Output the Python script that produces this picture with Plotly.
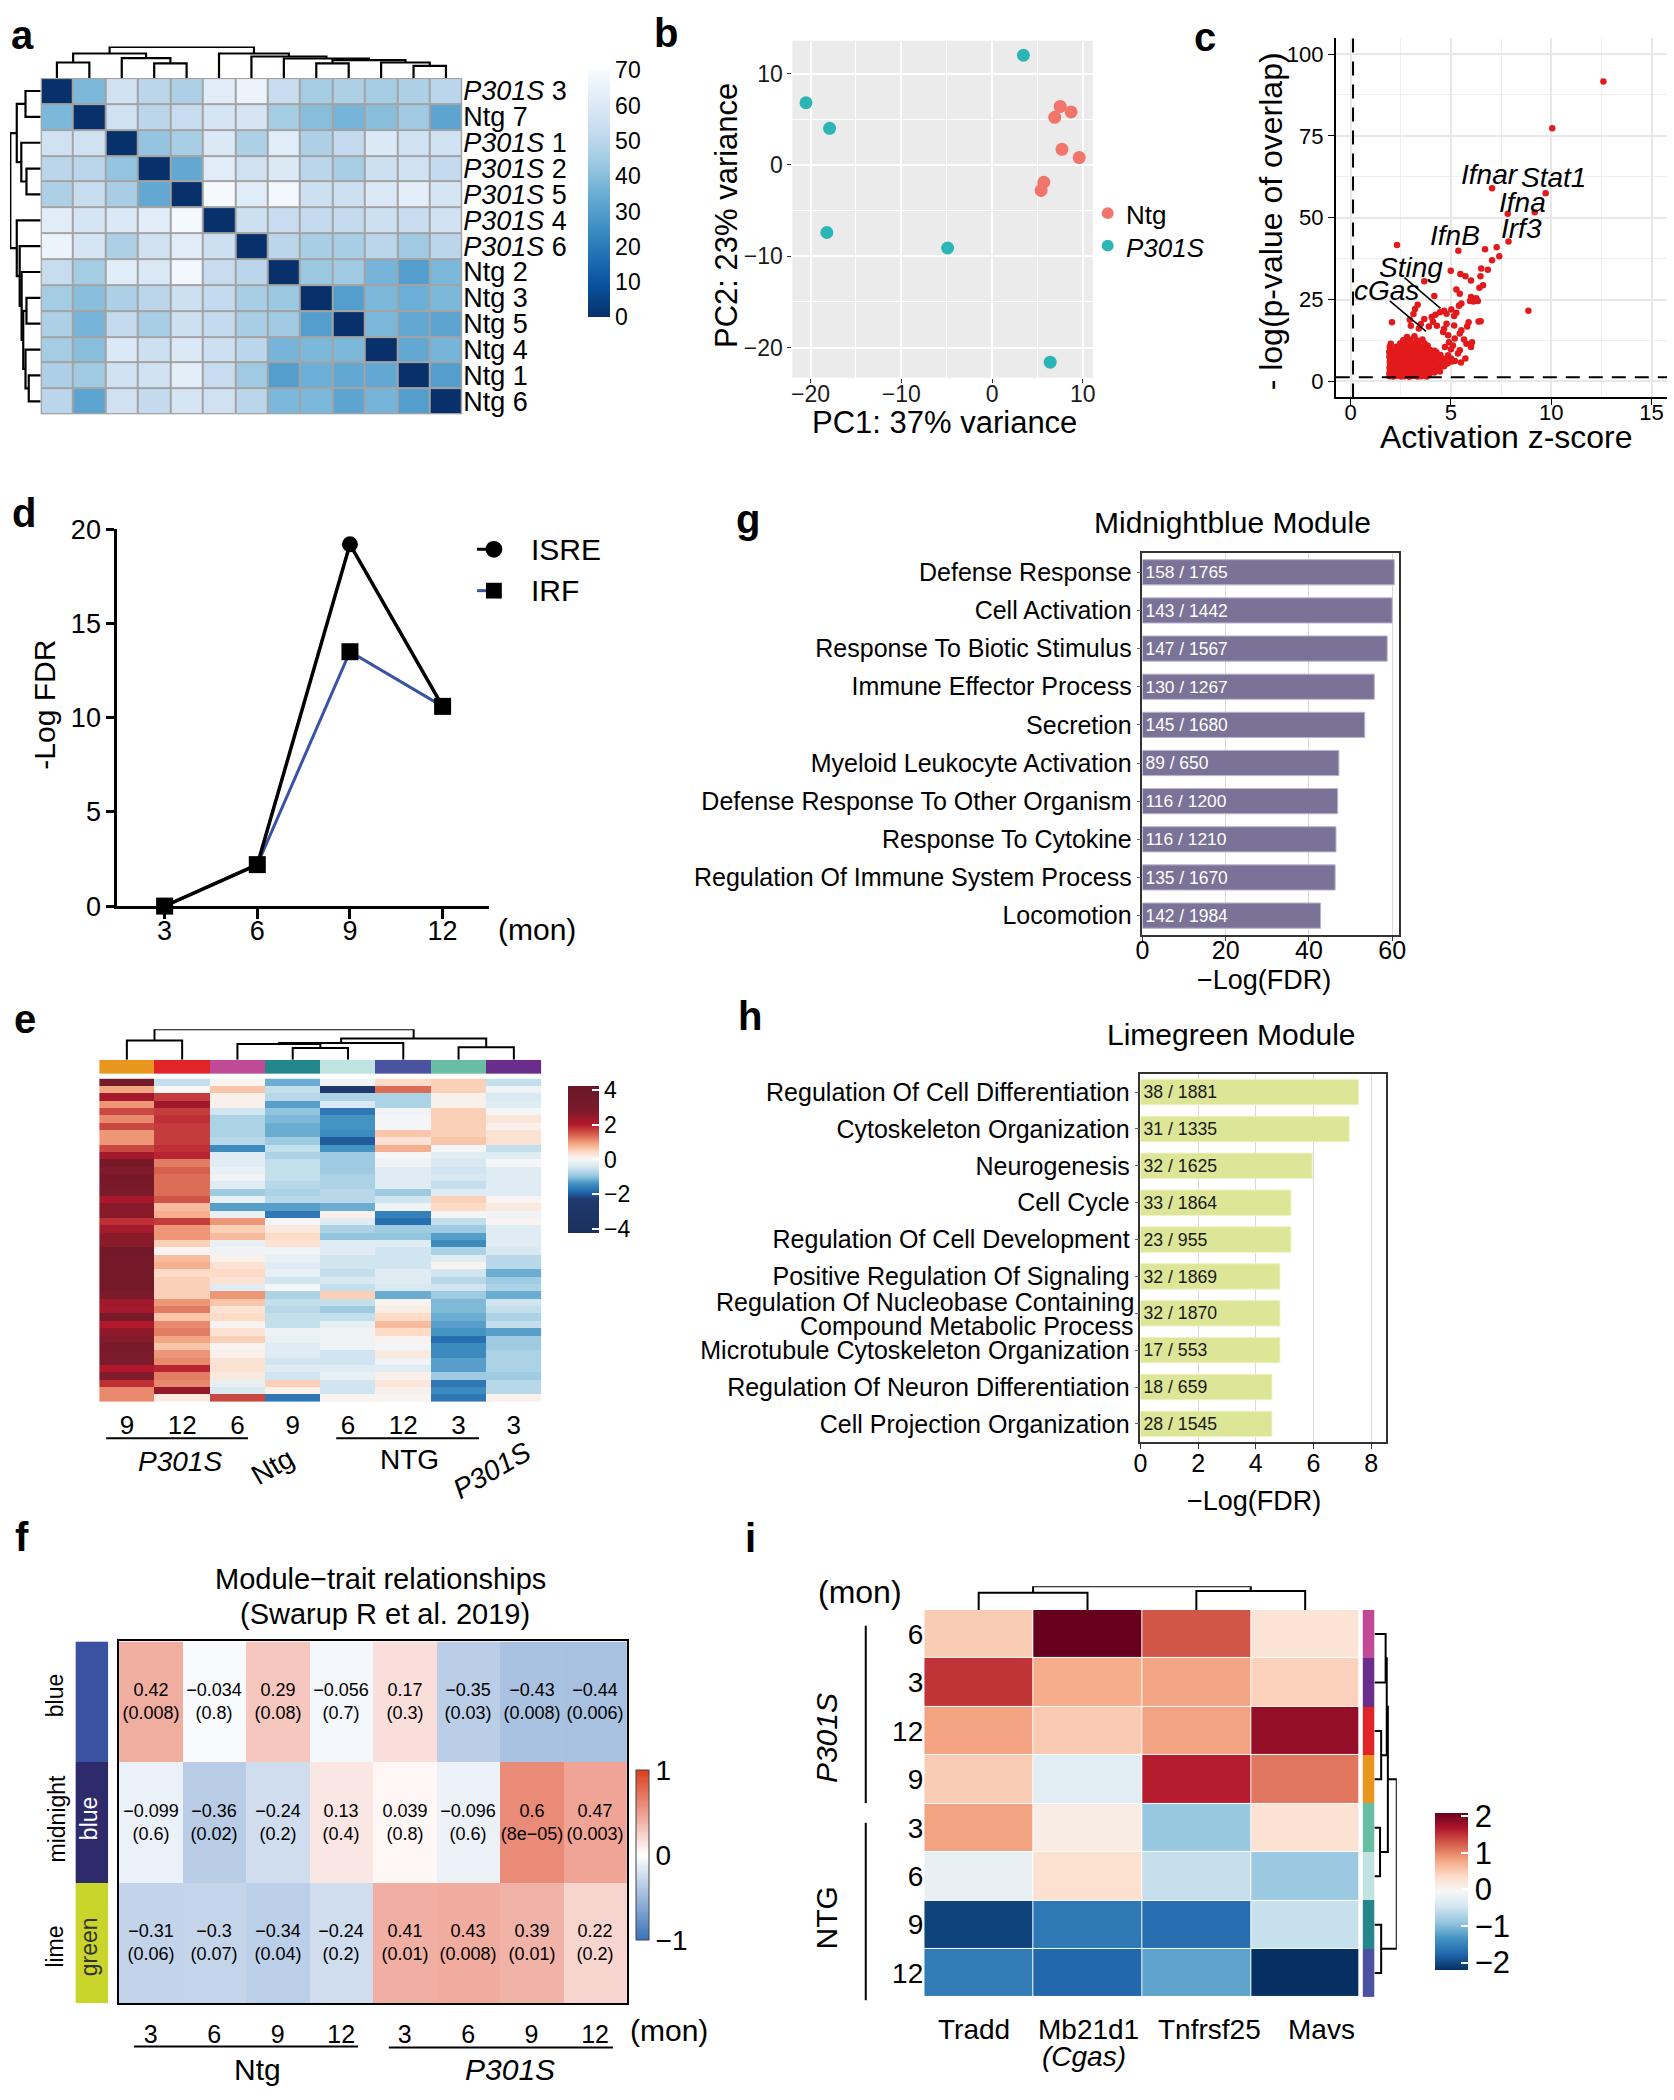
import plotly.graph_objects as go

W, H = 1674, 2100
FONT = "Liberation Sans, Arial, Helvetica, sans-serif"

# ---------------- data ----------------
# a: sample-to-sample distances
a_labels = ["<i>P301S</i> 3", "Ntg 7", "<i>P301S</i> 1", "<i>P301S</i> 2", "<i>P301S</i> 5",
            "<i>P301S</i> 4", "<i>P301S</i> 6", "Ntg 2", "Ntg 3", "Ntg 5", "Ntg 4", "Ntg 1", "Ntg 6"]
a_dist = [
    [0, 38, 56, 50, 47, 62, 66, 53, 45, 47, 45, 47, 50],
    [38, 0, 56, 50, 53, 58, 58, 45, 40, 37, 40, 44, 32],
    [56, 56, 0, 42, 46, 60, 47, 62, 47, 52, 60, 56, 56],
    [50, 50, 42, 0, 33, 62, 56, 60, 50, 46, 55, 56, 52],
    [47, 53, 46, 33, 0, 69, 62, 68, 55, 55, 60, 63, 58],
    [62, 58, 60, 62, 69, 0, 55, 53, 52, 52, 55, 53, 56],
    [66, 58, 47, 56, 62, 55, 0, 50, 46, 46, 50, 44, 50],
    [53, 45, 62, 60, 68, 53, 50, 0, 43, 44, 37, 30, 38],
    [45, 40, 47, 50, 55, 52, 46, 43, 0, 30, 38, 35, 38],
    [47, 37, 52, 46, 55, 52, 46, 44, 30, 0, 38, 33, 32],
    [45, 40, 60, 55, 60, 55, 50, 37, 38, 38, 0, 33, 37],
    [47, 44, 56, 56, 63, 53, 44, 30, 35, 33, 33, 0, 30],
    [50, 32, 56, 52, 58, 56, 50, 38, 38, 32, 37, 30, 0],
]
a_merges = [(0, 1, 47), (3, 4, 44), (2, 14, 60), (13, 15, 74), (8, 9, 44), (11, 12, 37),
            (10, 18, 47), (17, 19, 54), (7, 20, 59), (6, 21, 65), (5, 22, 74), (16, 23, 94)]

# b: PCA
b_ntg_pc1 = [7.5, 6.9, 8.7, 7.7, 9.6, 5.7, 5.4]
b_ntg_pc2 = [6.4, 5.2, 5.8, 1.7, 0.8, -1.9, -2.8]
b_p301s_pc1 = [3.45, -20.5, -17.9, -18.2, -4.9, 6.4]
b_p301s_pc2 = [12.0, 6.8, 4.0, -7.4, -9.1, -21.6]

# c: upstream regulators (activation z-score, -log p)
c_points = [
    (12.6, 91.6), (10.05, 77.3), (7.05, 59.0), (9.72, 57.5), (9.18, 51.7), (7.83, 51.2),
    (7.87, 42.7), (7.28, 41.0), (7.41, 38.2), (7.05, 37.0), (6.7, 40.4), (5.37, 39.9),
    (2.31, 41.7), (8.86, 21.6), (4.99, 33.8), (6.84, 34.1), (6.51, 34.5), (5.47, 32.8),
    (5.72, 32.1), (6.0, 30.8), (6.47, 32.1), (6.6, 29.4), (6.42, 28.6), (5.27, 28.1),
    (5.44, 26.8), (3.67, 30.6), (4.17, 26.1), (6.0, 25.8), (6.26, 25.4), (5.95, 24.6),
    (6.12, 24.4), (6.34, 24.6), (5.52, 23.8), (5.4, 23.1), (3.34, 23.4), (3.21, 22.1),
    (5.02, 22.0), (4.66, 21.6), (4.45, 21.1), (4.23, 20.4), (4.78, 20.7), (5.27, 21.0),
    (5.16, 20.0), (4.04, 19.7), (3.67, 19.1), (2.06, 18.1), (3.13, 20.6), (6.38, 18.3),
    (6.48, 18.4), (5.88, 18.1), (5.81, 16.8), (5.52, 15.6), (5.44, 14.6), (5.16, 17.1),
    (4.78, 17.6), (4.66, 16.1), (4.61, 15.1), (4.86, 14.1), (5.19, 13.1), (5.65, 12.8),
    (5.77, 11.5), (6.05, 12.0), (6.0, 10.5), (5.44, 9.5), (5.35, 8.5), (5.72, 7.0),
    (4.86, 8.0), (4.45, 3.0), (3.79, 1.5), (4.3, 17.0), (3.9, 16.8), (3.5, 17.5),
    (3.0, 17.0), (4.1, 18.2), (2.95, 18.8), (3.4, 16.2), (4.9, 12.0), (5.1, 11.0),
    (4.7, 10.5), (5.0, 9.8), (5.2, 6.2), (5.5, 5.8), (5.0, 7.0),
    (1.95, 1.6), (2.12, 1.5), (2.31, 1.7), (2.52, 1.5), (2.68, 1.6), (2.93, 1.4), (3.11, 1.7),
    (3.34, 1.5), (3.52, 1.6), (3.71, 1.8), (1.93, 2.4), (2.06, 2.5), (2.22, 2.3), (2.41, 2.5),
    (2.63, 2.4), (2.81, 2.6), (3.02, 2.3), (3.24, 2.5), (3.41, 2.4), (3.63, 2.6), (3.92, 2.3),
    (4.18, 2.7), (1.96, 3.3), (2.11, 3.2), (2.27, 3.4), (2.46, 3.3), (2.64, 3.1), (2.86, 3.4),
    (3.07, 3.2), (3.26, 3.5), (3.44, 3.3), (3.66, 3.2), (3.87, 3.4), (4.06, 3.3), (4.33, 3.6),
    (1.94, 4.2), (2.09, 4.3), (2.29, 4.1), (2.47, 4.4), (2.69, 4.2), (2.87, 4.0), (3.09, 4.3),
    (3.29, 4.2), (3.47, 4.5), (3.69, 4.1), (3.89, 4.3), (4.11, 4.2), (4.42, 4.4), (4.66, 4.6),
    (1.97, 5.1), (2.16, 5.0), (2.34, 5.2), (2.56, 5.1), (2.74, 4.9), (2.96, 5.3), (3.14, 5.1),
    (3.36, 5.0), (3.56, 5.2), (3.74, 5.1), (3.96, 5.3), (4.21, 5.0), (4.48, 5.2), (4.83, 5.5),
    (1.95, 6.0), (2.13, 6.1), (2.33, 5.9), (2.51, 6.2), (2.73, 6.0), (2.91, 6.1), (3.13, 5.9),
    (3.31, 6.2), (3.53, 6.0), (3.73, 5.8), (3.94, 6.1), (4.24, 6.0), (4.57, 6.3), (5.05, 6.1),
    (1.99, 6.9), (2.21, 7.0), (2.38, 6.8), (2.61, 7.1), (2.79, 6.9), (3.01, 7.0), (3.19, 6.8),
    (3.41, 7.1), (3.61, 6.9), (3.79, 7.0), (4.04, 6.8), (4.36, 7.1), (4.71, 6.9),
    (2.04, 7.8), (2.24, 7.9), (2.46, 7.7), (2.64, 8.0), (2.86, 7.8), (3.04, 7.9), (3.26, 7.7),
    (3.44, 8.0), (3.66, 7.8), (3.91, 7.9), (4.14, 7.7), (4.48, 8.1),
    (2.08, 8.7), (2.31, 8.8), (2.49, 8.6), (2.71, 8.9), (2.89, 8.7), (3.11, 8.8), (3.29, 8.6),
    (3.51, 8.9), (3.74, 8.7), (4.02, 8.6), (4.28, 8.9),
    (2.19, 9.6), (2.44, 9.7), (2.66, 9.5), (2.84, 9.8), (3.06, 9.6), (3.24, 9.7), (3.49, 9.5),
    (3.71, 9.8), (3.96, 9.6), (4.18, 9.4),
    (2.28, 10.6), (2.58, 10.7), (2.83, 10.5), (3.12, 10.8), (3.34, 10.6), (3.61, 10.5), (3.84, 10.9),
    (2.47, 11.6), (2.79, 11.7), (3.08, 11.5), (3.38, 11.8), (3.69, 11.6),
    (2.62, 12.6), (2.98, 12.7), (3.31, 12.5), (3.58, 12.8), (2.81, 13.6), (3.18, 13.8),
    (1.92, 9.0), (1.95, 10.5), (2.0, 11.5), (1.93, 7.5),
]
c_z = [p[0] for p in c_points]
c_logp = [p[1] for p in c_points]
c_genes = ["<i>Ifnar</i>", "<i>Stat1</i>", "<i>Ifna</i>", "<i>Irf3</i>", "<i>IfnB</i>", "<i>Sting</i>", "<i>cGas</i>"]
c_gene_z = [6.95, 10.13, 8.58, 8.53, 5.19, 3.0, 1.81]
c_gene_p = [63.3, 62.3, 54.8, 46.7, 44.5, 34.7, 27.9]

# d: motif enrichment
d_months = [3, 6, 9, 12]
d_isre = [0, 2.2, 19.2, 10.6]
d_irf = [0, 2.2, 13.5, 10.6]

# e: expression heatmap (8 groups x 44 genes)
e_times = ["9", "12", "6", "9", "6", "12", "3", "3"]
e_group_colors = ["#e8961e", "#e02427", "#c04a96", "#24868a", "#bfe3e1", "#4b52a0", "#68bea2", "#6b2d8b"]
e_p301s_9 = [3.3, 0.9, 2.2, 1.0, 1.6, 1.1, 1.6, 1.0, 1.0, 1.6, 2.2, 3.0, 2.7, 3.0, 2.9, 2.8, 2.1, 2.6,
             2.6, 1.8, 2.2, 2.6, 2.6, 3.6, 3.3, 3.2, 3.2, 3.3, 3.3, 2.8, 2.3, 2.2, 2.9, 2.0, 2.5, 2.7,
             2.9, 2.8, 2.8, 2.0, 2.7, 1.8, 1.1, 1.1]
e_p301s_12 = [-0.6, 0.0, 1.7, 2.3, 1.7, 1.8, 1.7, 1.7, 1.7, 1.8, 1.9, 1.2, 1.4, 1.3, 1.3, 1.3, 1.5, 0.7,
              0.8, 1.7, 1.0, 1.0, 0.5, 0.05, 0.7, 0.8, 0.4, 0.5, 0.5, 0.5, 1.0, 1.2, 0.6, 1.1, 1.2, 0.9,
              0.6, 1.0, 1.1, 1.9, 1.2, 1.1, 2.4, 0.2]
e_p301s_6 = [0.05, 0.6, 0.1, 0.1, -0.5, -0.8, -0.8, -0.8, -0.7, -1.5, -0.3, -0.3, -0.2, -0.1, -0.3, -0.9,
             -0.2, -1.3, -0.2, 1.0, 0.5, 0.7, -0.2, -0.1, 0.1, 0.3, 0.4, 0.3, -0.3, 1.0, 0.6, 0.3, 0.4,
             0.05, 0.3, 0.5, 0.05, 0.1, 0.3, 0.3, 0.2, -0.2, -0.4, 1.6]
e_ntg_9 = [-1.2, -0.6, -0.7, -1.3, -1.0, -1.1, -1.2, -1.2, -0.9, -0.6, -0.8, -0.6, -0.6, -0.6, -0.7, -0.8,
           -0.7, -1.3, -1.7, -0.05, 0.2, 0.4, 0.3, -0.1, -0.2, -0.3, -0.2, -0.5, -0.05, -0.8, -0.6, -0.7,
           -0.6, -0.6, -0.15, -0.2, -0.3, -0.3, -0.5, -0.3, -0.5, 0.5, 0.1, -1.7]
e_ntg_6 = [-0.1, -2.4, -0.8, -0.4, -1.7, -1.4, -1.4, -1.5, -2.0, -1.4, -0.9, -0.9, -0.9, -0.8, -0.8, -0.7,
           -0.7, -1.2, 0.1, -0.3, -0.8, -1.0, -0.3, -0.3, -0.5, -0.5, -0.6, -0.4, -0.6, 0.5, -0.6, -0.9,
           -0.6, -0.2, -0.1, -0.1, -0.1, -0.5, -0.5, -0.3, -0.2, -0.5, -0.5, 0.05]
e_ntg_12 = [0.4, 1.3, -0.8, -0.8, -0.1, -0.05, -0.05, 0.6, 0.3, 0.8, -0.05, -0.1, -0.3, -0.3, -0.3, -0.9,
            -0.5, -0.1, -1.6, -1.8, -0.9, -1.0, -0.3, -0.5, -0.5, -0.5, -0.3, -0.3, -0.4, -1.2, 0.05, 0.15,
            0.4, 0.7, 0.4, 0.05, -0.05, 0.2, -0.1, -0.3, 0.1, 0.25, 0.1, 0.05]
e_ntg_3 = [0.5, 0.5, 0.1, 0.1, 0.5, 0.5, 0.5, 0.5, 0.6, -0.05, -0.3, -0.4, -0.5, -0.4, -0.6, -0.3, 0.5, 0.4,
           -0.05, -0.6, -0.9, -1.3, -1.5, -0.8, -0.3, 0.05, -0.5, -0.7, -0.5, -0.9, -1.1, -1.1, -1.2, -1.3,
           -1.4, -1.8, -1.5, -1.5, -1.3, -1.3, -0.9, -1.7, -1.5, -1.7]
e_p301s_3 = [-0.6, -0.1, -0.4, -0.3, -0.05, 0.25, 0.1, 0.3, 0.3, -0.6, -0.3, -0.05, -0.3, -0.3, -0.3, -0.3,
             0.05, 0.2, -0.1, 0.05, -0.3, -0.3, -0.3, -0.4, -0.7, -0.7, -1.2, -0.9, -0.8, -1.2, -0.5, -0.6,
             -0.8, -0.6, -1.3, -0.9, -0.9, -0.8, -0.8, -0.8, -0.9, -0.7, -0.7, 0.1]
e_merges = [(3, 4, 35), (2, 8, 47), (9, 5, 50), (6, 7, 37), (10, 11, 63), (0, 1, 57), (13, 12, 90)]

# f: module-trait relationships
f_modules = ["blue", "midnightblue", "limegreen"]
f_module_colors = ["#3b52a3", "#2d2b6b", "#c9d52b"]
f_times = ["3", "6", "9", "12", "3", "6", "9", "12"]
f_r = [
    [0.42, -0.034, 0.29, -0.056, 0.17, -0.35, -0.43, -0.44],
    [-0.099, -0.36, -0.24, 0.13, 0.039, -0.096, 0.6, 0.47],
    [-0.31, -0.3, -0.34, -0.24, 0.41, 0.43, 0.39, 0.22],
]
f_p = [
    ["0.008", "0.8", "0.08", "0.7", "0.3", "0.03", "0.008", "0.006"],
    ["0.6", "0.02", "0.2", "0.4", "0.8", "0.6", "8e-05", "0.003"],
    ["0.06", "0.07", "0.04", "0.2", "0.01", "0.008", "0.01", "0.2"],
]

# g, h: GO enrichment
g_terms = ["Defense Response", "Cell Activation", "Response To Biotic Stimulus", "Immune Effector Process",
           "Secretion", "Myeloid Leukocyte Activation", "Defense Response To Other Organism",
           "Response To Cytokine", "Regulation Of Immune System Process", "Locomotion"]
g_logfdr = [60.5, 60.0, 58.8, 55.7, 53.4, 47.2, 46.9, 46.5, 46.3, 42.8]
g_counts = ["158 / 1765", "143 / 1442", "147 / 1567", "130 / 1267", "145 / 1680", "89 / 650",
            "116 / 1200", "116 / 1210", "135 / 1670", "142 / 1984"]
h_terms = ["Regulation Of Cell Differentiation", "Cytoskeleton Organization", "Neurogenesis", "Cell Cycle",
           "Regulation Of Cell Development", "Positive Regulation Of Signaling",
           "Regulation Of Nucleobase Containing<br>Compound Metabolic Process",
           "Microtubule Cytoskeleton Organization", "Regulation Of Neuron Differentiation",
           "Cell Projection Organization"]
h_logfdr = [7.56, 7.24, 5.96, 5.22, 5.22, 4.84, 4.84, 4.84, 4.56, 4.56]
h_counts = ["38 / 1881", "31 / 1335", "32 / 1625", "33 / 1864", "23 / 955", "32 / 1869", "32 / 1870",
            "17 / 553", "18 / 659", "28 / 1545"]

# i: cGAS-STING pathway genes
i_genes = ["Tradd", "Mb21d1", "Tnfrsf25", "Mavs"]
i_times = ["6", "3", "12", "9", "3", "6", "9", "12"]
i_group_colors = ["#c04a96", "#6b2d8b", "#e02427", "#e8961e", "#68bea2", "#bfe3e1", "#24868a", "#4b52a0"]
i_z = [
    [0.5, 2.1, 1.3, 0.25],
    [1.5, 0.75, 0.8, 0.45],
    [0.82, 0.52, 0.82, 1.85],
    [0.5, -0.3, 1.65, 1.1],
    [0.82, 0.12, -0.87, 0.28],
    [-0.22, 0.3, -0.57, -0.85],
    [-2.05, -1.6, -1.7, -0.55],
    [-1.55, -1.75, -1.2, -2.2],
]
i_col_merges = [(0, 1, 47), (2, 3, 52), (4, 5, 65)]
i_row_merges = [(0, 1, 20), (2, 3, 12), (8, 9, 22), (4, 5, 10), (10, 11, 24), (6, 7, 12), (12, 13, 40)]


# ---------------- helpers ----------------
def scale(stops, lo, hi):
    return [[(v - lo) / (hi - lo), c] for v, c in stops]


def discrete(colors):
    n = len(colors)
    cs = []
    for i, c in enumerate(colors):
        cs += [[i / n, c], [(i + 1) / n, c]]
    return cs


def dendro(merges, n):
    pos = {i: float(i) for i in range(n)}
    hgt = {i: 0.0 for i in range(n)}
    xs, ys = [], []
    for k, (a, b, h) in enumerate(merges):
        xs += [pos[a], pos[a], pos[b], pos[b], None]
        ys += [hgt[a], h, h, hgt[b], None]
        pos[n + k] = (pos[a] + pos[b]) / 2
        hgt[n + k] = h
    return xs, ys


BLUES_R = [[0, "#08306b"], [0.125, "#08519c"], [0.25, "#2171b5"], [0.375, "#4292c6"], [0.5, "#6baed6"],
           [0.625, "#9ecae1"], [0.75, "#c6dbef"], [0.875, "#deebf7"], [1, "#f7fbff"]]
E_SCALE = scale([(-4.25, "#1b2f5c"), (-2.3, "#1f3a6e"), (-1.9, "#2166ac"), (-1.4, "#4393c3"),
                 (-1.0, "#92c5de"), (-0.5, "#d1e5f0"), (0, "#f7f7f7"), (0.4, "#fddbc7"),
                 (0.9, "#f4a582"), (1.4, "#d6604d"), (2.0, "#b2182b"), (2.8, "#7a1a2a"),
                 (4.2, "#6a1628")], -4.25, 4.2)
RDBU_R = ["#053061", "#2166ac", "#4393c3", "#92c5de", "#d1e5f0", "#f7f7f7",
          "#fddbc7", "#f4a582", "#d6604d", "#b2182b", "#67001f"]
I_SCALE = [[k / 10, c] for k, c in enumerate(RDBU_R)]
F_SCALE = [[0, "#3a72ba"], [0.5, "#ffffff"], [1, "#dc3d1e"]]

fig = go.Figure()
axes_layout = {}
shapes = []
annotations = []


def axes(n, xpx, ypx, xkw=None, ykw=None):
    s = "" if n == 1 else str(n)
    xa = dict(domain=[xpx[0] / W, xpx[1] / W], anchor="y" + s, visible=False,
              showgrid=False, zeroline=False, fixedrange=True)
    ya = dict(domain=[1 - ypx[1] / H, 1 - ypx[0] / H], anchor="x" + s, visible=False,
              showgrid=False, zeroline=False, fixedrange=True)
    xa.update(xkw or {})
    ya.update(ykw or {})
    axes_layout["xaxis" + s] = xa
    axes_layout["yaxis" + s] = ya
    return "x" + s, "y" + s


def note(text, x, y, size, angle=0, anchor="center", color="black"):
    annotations.append(dict(text=text, x=x / W, y=1 - y / H, xref="paper", yref="paper",
                            showarrow=False, textangle=angle, xanchor=anchor, yanchor="middle",
                            font=dict(size=size, color=color, family=FONT)))


def seg(x0, y0, x1, y1, color="black", width=2):
    shapes.append(dict(type="line", xref="paper", yref="paper", x0=x0 / W, y0=1 - y0 / H,
                       x1=x1 / W, y1=1 - y1 / H, line=dict(color=color, width=width)))


def cbar(x, ytop, ybot, thick, **kw):
    d = dict(x=x / W, xanchor="left", xpad=0, y=1 - (ytop + ybot) / 2 / H, yanchor="middle", ypad=0,
             len=ybot - ytop, lenmode="pixels", thickness=thick, thicknessmode="pixels", outlinewidth=0)
    d.update(kw)
    return d


def minus(v):
    return str(v).replace("-", "\u2212")


# ---------------- a ----------------
xa, ya = axes(1, (34, 459), (64, 405), dict(range=[-0.5, 12.5]),
              dict(visible=True, range=[12.5, -0.5], side="right", tickmode="array",
                   tickvals=list(range(13)), ticktext=a_labels, ticks="", showline=False,
                   tickfont=dict(size=27)))
shapes.append(dict(type="rect", xref=xa, yref=ya, x0=-0.5, x1=12.5, y0=-0.5, y1=12.5,
                   fillcolor="#a3a3a3", line=dict(width=0), layer="below"))
fig.add_trace(go.Heatmap(z=a_dist, x=list(range(13)), y=list(range(13)), xaxis=xa, yaxis=ya,
                         colorscale=BLUES_R, zmin=0, zmax=70, xgap=2, ygap=2, hoverinfo="skip",
                         colorbar=cbar(586, 58, 305, 22, tickvals=[0, 10, 20, 30, 40, 50, 60, 70],
                                       tickfont=dict(size=23), ticks="")))
shapes.append(dict(type="rect", xref=xa, yref=ya, x0=-0.5, x1=12.5, y0=-0.5, y1=12.5,
                   fillcolor="rgba(0,0,0,0)", line=dict(color="#a3a3a3", width=2), layer="above"))
dx, dy = dendro(a_merges, 13)
xa2, ya2 = axes(2, (34, 459), (32, 64), dict(range=[-0.5, 12.5]), dict(range=[0, 95]))
fig.add_trace(go.Scatter(x=dx, y=dy, mode="lines", line=dict(color="black", width=2.2),
                         xaxis=xa2, yaxis=ya2, cliponaxis=False, hoverinfo="skip"))
xa3, ya3 = axes(3, (3, 34), (64, 405), dict(range=[95, 0]), dict(range=[12.5, -0.5]))
fig.add_trace(go.Scatter(x=dy, y=dx, mode="lines", line=dict(color="black", width=2.2),
                         xaxis=xa3, yaxis=ya3, cliponaxis=False, hoverinfo="skip"))

# ---------------- b ----------------
grid_b = dict(visible=True, showgrid=True, gridcolor="white", gridwidth=2, ticks="outside", ticklen=4,
              tickcolor="#333333", tickfont=dict(size=23, color="#1a1a1a"), showline=False)
xa4, ya4 = axes(4, (792, 1095), (26, 368),
                dict(grid_b, range=[-22, 11.1], tickvals=[-20, -10, 0, 10], ticklabelstandoff=-8,
                     ticktext=["\u221220", "\u221210", "0", "10"],
                     minor=dict(tickvals=[-15, -5, 5], showgrid=True, gridcolor="white", gridwidth=1)),
                dict(grid_b, range=[-23.3, 13.6], tickvals=[-20, -10, 0, 10], ticktext=["\u221220", "\u221210", "0", "10"],
                     minor=dict(tickvals=[-15, -5, 5], showgrid=True, gridcolor="white", gridwidth=1)))
shapes.append(dict(type="rect", xref=xa4 + " domain", yref=ya4 + " domain", x0=0, x1=1, y0=0, y1=1,
                   fillcolor="#ebebeb", line=dict(width=0), layer="below"))
fig.add_trace(go.Scatter(x=b_ntg_pc1, y=b_ntg_pc2, mode="markers", xaxis=xa4, yaxis=ya4,
                         marker=dict(color="#f0756b", size=13), hoverinfo="skip"))
fig.add_trace(go.Scatter(x=b_p301s_pc1, y=b_p301s_pc2, mode="markers", xaxis=xa4, yaxis=ya4,
                         marker=dict(color="#2bb5b5", size=13), cliponaxis=False, hoverinfo="skip"))
note("PC2: 23% variance", 725, 203, 31, angle=-90)
note("PC1: 37% variance", 945, 413, 31)
for yy, col, lab in [(201, "#f0756b", "Ntg"), (234, "#2bb5b5", "<i>P301S</i>")]:
    shapes.append(dict(type="circle", xref="paper", yref="paper", x0=(1110 - 6) / W, x1=(1110 + 6) / W,
                       y0=1 - (yy + 6) / H, y1=1 - (yy - 6) / H, fillcolor=col, line=dict(width=0)))
    note(lab, 1126, yy + 2, 26, anchor="left")

# ---------------- c ----------------
grid_c = dict(visible=True, showgrid=True, gridcolor="#e8e8e8", gridwidth=1.5, showline=True, linecolor="black",
              linewidth=2, ticks="outside", ticklen=6, tickcolor="black", tickfont=dict(size=22))
xa5, ya5 = axes(5, (1340, 1674), (23, 388),
                dict(grid_c, range=[-0.74, 15.77], tickvals=[0, 5, 10, 15], ticklabelstandoff=-12,
                     minor=dict(tickvals=[2.5, 7.5, 12.5], showgrid=True, gridcolor="#efefef", gridwidth=1)),
                dict(grid_c, range=[-4.9, 105], tickvals=[0, 25, 50, 75, 100],
                     minor=dict(tickvals=[12.5, 37.5, 62.5, 87.5], showgrid=True, gridcolor="#efefef", gridwidth=1)))
fig.add_trace(go.Scatter(x=c_z, y=c_logp, mode="markers", xaxis=xa5, yaxis=ya5,
                         marker=dict(color="#e31a1c", size=6.5, line=dict(width=0)), hoverinfo="skip"))
shapes.append(dict(type="line", xref=xa5, yref=ya5 + " domain", x0=0.12, x1=0.12, y0=0, y1=1,
                   line=dict(color="black", width=2, dash="14px,9px")))
shapes.append(dict(type="line", xref=xa5 + " domain", yref=ya5, x0=0, x1=1, y0=1.3, y1=1.3,
                   line=dict(color="black", width=2, dash="14px,9px")))
for t, gx, gy in zip(c_genes, c_gene_z, c_gene_p):
    annotations.append(dict(text=t, x=gx, y=gy, xref=xa5, yref=ya5, showarrow=False,
                            font=dict(size=28, family=FONT, color="black")))
shapes.append(dict(type="line", xref=xa5, yref=ya5, x0=2.68, y0=31.7, x1=4.48, y1=22.3,
                   line=dict(color="black", width=1.5)))
shapes.append(dict(type="line", xref=xa5, yref=ya5, x0=1.95, y0=24.6, x1=3.76, y1=15.3,
                   line=dict(color="black", width=1.5)))
note("- log(p-value of overlap)", 1275, 209, 32, angle=-90)
note("Activation z-score", 1512, 428, 32)

# ---------------- d ----------------
ax_d = dict(visible=True, showline=True, linecolor="black", linewidth=2.5, ticks="outside",
            tickwidth=2.5, tickcolor="black", tickfont=dict(size=27))
xa6, ya6 = axes(6, (111, 486), (521.7, 904),
                dict(ax_d, range=[1.46, 13.5], tickvals=d_months, ticklen=10, ticklabelstandoff=-11),
                dict(ax_d, range=[0, 20], tickvals=[0, 5, 10, 15, 20], ticklen=8))
fig.add_trace(go.Scatter(x=d_months, y=d_irf, mode="lines+markers", xaxis=xa6, yaxis=ya6,
                         line=dict(color="#3a54a4", width=3), cliponaxis=False, hoverinfo="skip",
                         marker=dict(symbol="square", size=17, color="black")))
fig.add_trace(go.Scatter(x=d_months, y=d_isre, mode="lines+markers", xaxis=xa6, yaxis=ya6,
                         line=dict(color="black", width=3.5), cliponaxis=False, hoverinfo="skip",
                         marker=dict(symbol="circle", size=16, color="black")))
note("-Log FDR", 38, 700, 30, angle=-90)
note("(mon)", 534, 928, 30)
seg(474, 542, 498, 542, width=3)
shapes.append(dict(type="circle", xref="paper", yref="paper", x0=(491 - 8.5) / W, x1=(491 + 8.5) / W,
                   y0=1 - (542 + 8.5) / H, y1=1 - (542 - 8.5) / H, fillcolor="black", line=dict(width=0)))
seg(474, 584, 498, 584, color="#3a54a4", width=3)
shapes.append(dict(type="rect", xref="paper", yref="paper", x0=(491 - 8) / W, x1=(491 + 8) / W,
                   y0=1 - (584 + 8) / H, y1=1 - (584 - 8) / H, fillcolor="black", line=dict(width=0)))
note("ISRE", 526, 542, 30, anchor="left")
note("IRF", 526, 584, 30, anchor="left")

# ---------------- g ----------------
ax_bar_x = dict(visible=True, showgrid=True, gridcolor="#d9d9d9", gridwidth=1, showline=True, mirror=True,
                linecolor="#333333", linewidth=1.5, ticks="outside", ticklen=5, tickcolor="#333333",
                tickfont=dict(size=25))
ax_bar_y = dict(visible=True, type="category", autorange="reversed", showline=True, mirror=True,
                linecolor="#333333", linewidth=1.5, ticks="outside", ticklen=4, tickcolor="#666666",
                tickfont=dict(size=25))
xa7, ya7 = axes(7, (1145, 1404), (546, 933),
                dict(ax_bar_x, range=[0, 61.7], tickvals=[0, 20, 40, 60], ticklabelstandoff=-12),
                dict(ax_bar_y))
fig.add_trace(go.Bar(x=g_logfdr, y=g_terms, orientation="h", xaxis=xa7, yaxis=ya7, width=0.66,
                     marker=dict(color="#7b7297", line=dict(color="#b9b3cc", width=1)),
                     text=g_counts, textposition="inside", insidetextanchor="start",
                     textfont=dict(color="white", size=20), hoverinfo="skip"))
note("Midnightblue Module", 1236, 515, 30)
note("\u2212Log(FDR)", 1268, 979, 27)

# ---------------- h ----------------
h_ticktext = ["" if "<br>" in t else t for t in h_terms]
xa11, ya11 = axes(11, (1143, 1391), (1074, 1448),
                  dict(ax_bar_x, range=[0, 8.53], tickvals=[0, 2, 4, 6, 8], ticklabelstandoff=-7),
                  dict(ax_bar_y, tickmode="array", tickvals=h_terms, ticktext=h_ticktext))
fig.add_trace(go.Bar(x=h_logfdr, y=h_terms, orientation="h", xaxis=xa11, yaxis=ya11, width=0.69,
                     marker=dict(color="#dde597", line=dict(color="#eef2c4", width=1)),
                     text=h_counts, textposition="inside", insidetextanchor="start",
                     textfont=dict(color="#1a1a1a", size=20), hoverinfo="skip"))
for k, t in enumerate(h_terms):
    if "<br>" in t:
        yc = 1074 + (k + 0.5) * (1448 - 1074) / len(h_terms)
        for j, part in enumerate(t.split("<br>")):
            note(part, 1139, yc - 11 + 24 * j, 25, anchor="right")
note("Limegreen Module", 1234, 1034, 30)
note("\u2212Log(FDR)", 1258, 1508, 27)

# ---------------- e ----------------
e_cols = [e_p301s_9, e_p301s_12, e_p301s_6, e_ntg_9, e_ntg_6, e_ntg_12, e_ntg_3, e_p301s_3]
e_z = [list(row) for row in zip(*e_cols)]
xa8, ya8 = axes(8, (93, 539), (1079, 1407),
                dict(visible=True, range=[-0.5, 7.5], tickvals=list(range(8)), ticktext=e_times, ticks="",
                     showline=False, tickfont=dict(size=26), ticklabelstandoff=5),
                dict(range=[len(e_z) - 0.5, -0.5]))
fig.add_trace(go.Heatmap(z=e_z, x=list(range(8)), y=list(range(len(e_z))), xaxis=xa8, yaxis=ya8,
                         colorscale=E_SCALE, zmin=-4.25, zmax=4.2, hoverinfo="skip",
                         colorbar=cbar(566, 1088, 1235, 31, tickvals=[-4, -2, 0, 2, 4],
                                       ticktext=["\u22124", "\u22122", "0", "2", "4"], ticks="inside",
                                       ticklen=7, tickwidth=2, tickcolor="white", tickfont=dict(size=23))))
xa9, ya9 = axes(9, (93, 539), (1060, 1074), dict(range=[-0.5, 7.5]), dict(range=[-0.5, 0.5]))
fig.add_trace(go.Heatmap(z=[list(range(8))], x=list(range(8)), y=[0], xaxis=xa9, yaxis=ya9,
                         colorscale=discrete(e_group_colors), zmin=-0.5, zmax=7.5, showscale=False,
                         hoverinfo="skip"))
ex, ey = dendro(e_merges, 8)
xa10, ya10 = axes(10, (93, 539), (1029, 1060), dict(range=[-0.5, 7.5]), dict(range=[0, 90]))
fig.add_trace(go.Scatter(x=ex, y=ey, mode="lines", line=dict(color="black", width=2),
                         xaxis=xa10, yaxis=ya10, cliponaxis=False, hoverinfo="skip"))
seg(100, 1444, 243, 1444)
seg(332, 1444, 476, 1444)
note("<i>P301S</i>", 174, 1467, 28)
note("Ntg", 268, 1473, 28, angle=-30)
note("NTG", 406, 1465, 28)
note("<i>P301S</i>", 489, 1477, 28, angle=-30)

# ---------------- f ----------------
f_text = [[minus(r) + "<br>(" + minus(p) + ")" for r, p in zip(rr, pp)] for rr, pp in zip(f_r, f_p)]
ax_f = dict(showline=True, mirror=True, linecolor="black", linewidth=2)
xa12, ya12 = axes(12, (113, 625), (1650, 2017),
                  dict(ax_f, visible=True, range=[-0.5, 7.5], tickvals=list(range(8)), ticktext=f_times,
                       ticks="", tickfont=dict(size=25), ticklabelstandoff=8),
                  dict(ax_f, visible=True, range=[2.5, -0.5], showticklabels=False, ticks=""))
fig.add_trace(go.Heatmap(z=f_r, x=list(range(8)), y=list(range(3)), xaxis=xa12, yaxis=ya12,
                         colorscale=F_SCALE, zmin=-1, zmax=1, text=f_text, texttemplate="%{text}",
                         textfont=dict(size=18, color="black", family=FONT), hoverinfo="skip",
                         colorbar=cbar(634, 1782, 1952, 13, tickvals=[-1, 0, 1], ticktext=["\u22121", "0", "1"],
                                       ticks="", outlinewidth=1, outlinecolor="#444444",
                                       tickfont=dict(size=28))))
xa13, ya13 = axes(13, (69, 102), (1650, 2017), dict(range=[-0.5, 0.5]), dict(range=[2.5, -0.5]))
fig.add_trace(go.Heatmap(z=[[0], [1], [2]], x=[0], y=[0, 1, 2], xaxis=xa13, yaxis=ya13,
                         colorscale=discrete(f_module_colors), zmin=-0.5, zmax=2.5, showscale=False,
                         hoverinfo="skip"))
note("Module\u2212trait relationships", 377, 1587, 29)
note("(Swarup R et al. 2019)", 381, 1622, 29)
note("blue", 48, 1705, 23, angle=-90)
note("midnight", 50, 1830, 23, angle=-90)
note("blue", 83, 1830, 23, angle=-90, color="white")
note("lime", 48, 1960, 23, angle=-90)
note("green", 83, 1960, 23, angle=-90, color="#333333")
note("(mon)", 668, 2045, 30)
seg(128, 2061, 354, 2061)
seg(385, 2062, 611, 2062)
note("Ntg", 253, 2084, 30)
note("<i>P301S</i>", 507, 2084, 30)

# ---------------- i ----------------
xa14, ya14 = axes(14, (925, 1364), (1618, 2011),
                  dict(range=[-0.5, 3.5]),
                  dict(visible=True, range=[7.5, -0.5], tickvals=list(range(8)), ticktext=i_times, ticks="",
                       showline=False, tickfont=dict(size=28)))
fig.add_trace(go.Heatmap(z=i_z, x=list(range(4)), y=list(range(8)), xaxis=xa14, yaxis=ya14,
                         colorscale=I_SCALE, zmin=-2.2, zmax=2.1, xgap=1, ygap=1, hoverinfo="skip",
                         colorbar=cbar(1440, 1825, 1982, 33, tickvals=[-2, -1, 0, 1, 2],
                                       ticktext=["\u22122", "\u22121", "0", "1", "2"], ticks="inside",
                                       ticklen=7, tickwidth=2, tickcolor="white", tickfont=dict(size=31))))
# gene labels sit slightly off the column centres in the original, so they are placed as text
for gname, gx in zip(i_genes, [975, 1091, 1213, 1326]):
    note(gname, gx, 2044, 28)
note("<i>(Cgas)</i>", 1086, 2071, 28)
xa15, ya15 = axes(15, (1367, 1379), (1618, 2011), dict(range=[-0.5, 0.5]), dict(range=[7.5, -0.5]))
fig.add_trace(go.Heatmap(z=[[k] for k in range(8)], x=[0], y=list(range(8)), xaxis=xa15, yaxis=ya15,
                         colorscale=discrete(i_group_colors), zmin=-0.5, zmax=7.5, showscale=False,
                         hoverinfo="skip"))
ix, iy = dendro(i_col_merges, 4)
xa16, ya16 = axes(16, (925, 1364), (1594, 1618), dict(range=[-0.5, 3.5]), dict(range=[0, 65]))
fig.add_trace(go.Scatter(x=ix, y=iy, mode="lines", line=dict(color="black", width=2),
                         xaxis=xa16, yaxis=ya16, cliponaxis=False, hoverinfo="skip"))
rx, ry = dendro(i_row_merges, 8)
xa17, ya17 = axes(17, (1379, 1401.5), (1618, 2011), dict(range=[0, 40]), dict(range=[7.5, -0.5]))
fig.add_trace(go.Scatter(x=ry, y=rx, mode="lines", line=dict(color="black", width=2),
                         xaxis=xa17, yaxis=ya17, cliponaxis=False, hoverinfo="skip"))
note("(mon)", 860, 1600, 32)
seg(866, 1634, 866, 1814)
seg(866, 1834, 866, 2014)
note("<i>P301S</i>", 826, 1748, 30, angle=-90)
note("NTG", 826, 1931, 30, angle=-90)

# ---------------- panel letters ----------------
for lab, lx, ly in [("a", 16, 20), ("b", 665, 18), ("c", 1208, 22), ("d", 17, 505), ("g", 747, 511),
                    ("e", 18, 1019), ("h", 749, 1016), ("f", 15, 1544), ("i", 750, 1545)]:
    note("<b>" + lab + "</b>", lx, ly, 40)

fig.update_layout(width=W, height=H, margin=dict(l=0, r=0, t=0, b=0), autosize=False,
                  paper_bgcolor="white", plot_bgcolor="white", showlegend=False,
                  font=dict(family=FONT, color="black"), annotations=annotations, shapes=shapes,
                  **axes_layout)

fig.write_html("out.html", config={"displayModeBar": False},
               post_script="document.body.style.margin='0';")
